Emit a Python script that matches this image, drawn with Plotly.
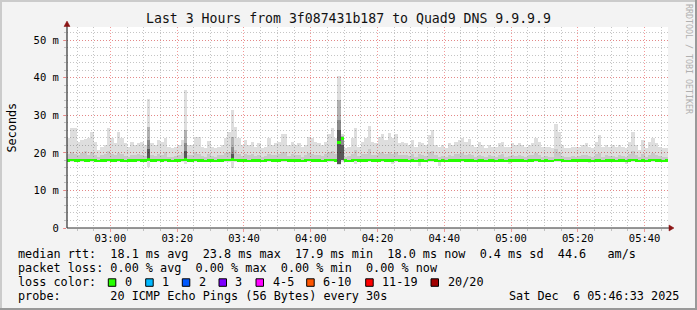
import plotly.graph_objects as go
import pandas as pd

# ---------------- data (milliseconds, 1-minute steps) ----------------
START = "2025-12-06 02:47:00"
END = "2025-12-06 05:47:00"

smoke_max = [
    23.9, 26.5, 26.5, 23.0, 23.4, 23.6, 23.9, 25.6, 22.9, 20.7, 21.6, 22.1, 26.5, 23.9, 22.5, 25.6, 23.9, 22.5, 21.6, 22.9,
    22.1, 22.5, 22.9, 22.1, 34.3, 22.5, 22.1, 23.4, 22.9, 23.9, 21.6, 21.2, 21.6, 22.1, 23.4, 36.6, 22.1, 22.1, 24.3, 24.3,
    21.6, 21.2, 23.1, 21.6, 21.2, 21.6, 22.1, 23.9, 25.6, 31.4, 27.0, 23.9, 22.1, 23.4, 22.1, 22.9, 21.6, 22.5, 21.2, 21.6,
    23.9, 22.1, 22.5, 22.9, 25.1, 25.1, 22.1, 22.9, 22.1, 22.5, 21.6, 22.1, 24.3, 23.9, 22.9, 22.5, 22.1, 22.9, 25.1, 26.5,
    23.9, 40.5, 25.0, 21.2, 21.6, 23.9, 26.5, 21.6, 22.9, 23.9, 27.1, 22.9, 22.5, 24.3, 25.1, 23.4, 25.3, 23.9, 25.1, 22.5,
    22.9, 22.5, 22.1, 23.4, 21.6, 22.9, 22.5, 22.1, 24.7, 26.0, 22.1, 21.6, 22.1, 21.2, 22.5, 22.1, 22.9, 23.4, 23.9, 22.9,
    23.7, 22.1, 21.6, 22.9, 22.1, 21.2, 22.1, 21.6, 21.6, 22.5, 22.9, 21.6, 21.6, 22.5, 22.1, 22.5, 22.1, 21.6, 22.1, 22.5,
    23.9, 22.9, 21.6, 21.6, 21.6, 21.2, 27.7, 25.6, 22.1, 21.2, 21.2, 21.6, 21.6, 21.6, 22.1, 22.5, 21.6, 21.2, 22.9, 24.7,
    21.6, 22.1, 21.6, 22.1, 21.6, 22.1, 21.6, 21.2, 22.9, 25.6, 22.1, 20.7, 23.5, 21.2, 22.9, 23.9, 22.5, 21.6, 21.2, 21.2,
]

smoke_mid = [
    19.6, 20.2, 19.8, 19.4, 19.9, 20.4, 19.5, 20.1, 19.3, 19.0, 19.4, 19.8, 20.6, 19.7, 19.3, 20.0, 19.6, 19.2, 19.0, 19.5,
    19.3, 19.8, 19.5, 19.2, 19.5, 19.4, 19.1, 19.7, 19.5, 20.1, 19.0, 18.9, 19.2, 19.4, 19.9, 19.5, 19.5, 19.3, 20.2, 19.8,
    19.1, 19.0, 19.6, 19.2, 19.0, 19.3, 19.5, 19.9, 20.3, 19.5, 20.8, 19.6, 19.2, 19.7, 19.3, 19.6, 19.1, 19.4, 19.0, 19.2,
    19.8, 19.3, 19.5, 19.6, 20.3, 20.1, 19.2, 19.6, 19.3, 19.4, 19.0, 19.3, 20.0, 19.8, 19.5, 19.4, 19.2, 19.6, 20.2, 20.6,
    19.7, 19.5, 19.5, 18.9, 19.1, 19.8, 20.7, 19.1, 19.6, 19.8, 20.9, 19.5, 19.4, 19.9, 20.2, 19.6, 20.1, 19.7, 20.2, 19.3,
    19.5, 19.4, 19.2, 19.7, 19.0, 19.6, 19.3, 19.2, 20.1, 20.5, 19.3, 19.0, 19.2, 18.9, 19.4, 19.2, 19.6, 19.7, 19.9, 19.5,
    19.8, 19.3, 19.0, 19.5, 19.2, 18.9, 19.3, 19.1, 19.0, 19.4, 19.6, 19.0, 19.1, 19.4, 19.2, 19.4, 19.2, 19.0, 19.3, 19.5,
    19.9, 19.5, 19.0, 19.1, 19.0, 18.9, 21.0, 20.3, 19.2, 18.9, 18.9, 19.1, 19.0, 19.1, 19.3, 19.4, 19.1, 18.9, 19.6, 20.0,
    19.0, 19.3, 19.1, 19.2, 19.0, 19.3, 19.1, 18.9, 19.6, 20.4, 19.3, 18.8, 19.7, 19.0, 19.5, 19.9, 19.4, 19.1, 18.9, 19.0,
]

smoke_min = [
    17.6, 17.6, 17.6, 17.6, 17.6, 17.6, 17.6, 17.6, 17.6, 17.6, 17.6, 17.6, 17.6, 17.6, 17.6, 17.6, 17.6, 17.6, 17.6, 17.6,
    17.6, 17.6, 17.6, 17.6, 16.2, 17.5, 17.6, 17.6, 17.6, 17.6, 17.6, 17.6, 17.6, 17.6, 17.6, 17.0, 17.6, 17.6, 17.6, 17.6,
    17.6, 17.6, 17.6, 17.6, 17.6, 17.6, 17.6, 17.6, 17.5, 16.0, 17.5, 17.6, 17.6, 17.6, 17.6, 17.6, 17.6, 17.6, 17.6, 17.6,
    17.6, 17.6, 17.6, 17.6, 17.6, 17.6, 17.6, 17.6, 17.6, 17.6, 17.6, 17.6, 17.6, 17.6, 17.6, 17.6, 17.6, 17.6, 17.6, 17.6,
    17.6, 16.9, 17.6, 17.6, 17.6, 17.6, 17.0, 17.6, 17.6, 17.6, 17.6, 17.6, 17.6, 17.6, 17.6, 17.6, 17.6, 17.0, 17.6, 17.6,
    17.6, 17.6, 17.6, 17.6, 17.6, 16.6, 17.6, 17.6, 17.6, 17.6, 17.6, 16.6, 17.6, 17.6, 17.6, 17.6, 17.6, 17.6, 17.6, 17.6,
    17.6, 17.6, 17.6, 17.6, 17.6, 17.6, 17.6, 17.6, 17.6, 17.6, 17.6, 17.6, 17.0, 17.6, 17.6, 17.6, 17.6, 17.6, 17.6, 17.6,
    17.6, 17.6, 17.6, 17.6, 17.6, 17.6, 17.6, 17.6, 17.6, 17.6, 17.6, 17.6, 17.6, 17.6, 17.6, 17.6, 17.3, 17.6, 17.6, 17.6,
    17.6, 17.6, 17.6, 17.6, 17.6, 17.6, 17.6, 17.1, 17.6, 17.6, 17.6, 17.6, 17.6, 17.6, 17.6, 17.6, 17.6, 17.6, 17.6, 17.6,
]

median = [
    18.0, 18.1, 18.0, 18.0, 18.1, 18.0, 18.0, 18.1, 18.0, 17.9, 18.0, 18.0, 18.1, 18.0, 18.0, 18.1, 18.0, 17.9, 18.0, 18.0,
    18.0, 18.1, 18.0, 18.0, 18.2, 18.0, 18.0, 18.1, 18.0, 18.1, 18.0, 17.9, 18.0, 18.0, 18.1, 18.2, 18.0, 18.0, 18.1, 18.0,
    18.0, 17.9, 18.0, 18.0, 17.9, 18.0, 18.0, 18.1, 18.1, 18.2, 18.1, 18.0, 18.0, 18.0, 17.9, 18.0, 18.0, 18.0, 17.9, 18.0,
    18.1, 18.0, 18.0, 18.0, 18.1, 18.1, 18.0, 18.0, 18.0, 18.0, 17.9, 18.0, 18.1, 18.0, 18.0, 18.0, 17.9, 18.0, 18.1, 18.1,
    18.0, 22.8, 23.8, 18.0, 17.9, 18.0, 18.1, 18.0, 18.0, 18.0, 18.1, 18.0, 18.0, 18.0, 18.1, 18.0, 18.0, 18.0, 18.1, 18.0,
    18.0, 18.0, 17.9, 18.0, 17.9, 18.0, 18.0, 17.9, 18.1, 18.1, 18.0, 17.9, 18.0, 17.9, 18.0, 18.0, 18.0, 18.0, 18.1, 18.0,
    18.0, 18.0, 17.9, 18.0, 18.0, 17.9, 18.0, 18.0, 17.9, 18.0, 18.0, 17.9, 18.0, 18.0, 18.0, 18.0, 18.0, 17.9, 18.0, 18.0,
    18.1, 18.0, 17.9, 18.0, 17.9, 17.9, 18.1, 18.1, 18.0, 17.9, 17.9, 18.0, 18.0, 18.0, 18.0, 18.0, 18.0, 17.9, 18.0, 18.0,
    17.9, 18.0, 18.0, 18.0, 17.9, 18.0, 18.0, 17.9, 18.0, 18.1, 18.0, 17.9, 18.0, 17.9, 18.0, 18.1, 18.0, 18.0, 17.9, 18.0,
]

# spikes: darker smoke layers (ms)
spike_idx = [24, 35, 49, 81, 82]
spike_base = [18.0, 18.0, 18.0, 17.0, 18.0]
spike_d3 = [21.0, 20.5, 19.8, 26.0, 22.0]
spike_d2 = [23.5, 22.5, 21.5, 28.7, 23.5]
spike_d1 = [27.0, 26.0, 24.3, 34.0, 24.5]

y_tick_vals = [0, 10, 20, 30, 40, 50]
y_tick_text = ["0", "10 m", "20 m", "30 m", "40 m", "50 m"]

title_text = "Last 3 Hours from 3f087431b187 to Quad9 DNS 9.9.9.9"
row_rtt = "median rtt:  18.1 ms avg  23.8 ms max  17.9 ms min  18.0 ms now  0.4 ms sd  44.6   am/s"
row_loss = "packet loss: 0.00 % avg  0.00 % max  0.00 % min  0.00 % now"
row_color_label = "loss color:"
loss_labels = ["0", "1", "2", "3", "4-5", "6-10", "11-19", "20/20"]
loss_colors = ["#26ff00", "#00b8ff", "#0059ff", "#7e00ff", "#ff00ff", "#ff5500", "#ff0000", "#a10000"]
row_probe = "probe:       20 ICMP Echo Pings (56 Bytes) every 30s"
date_text = "Sat Dec  6 05:46:33 2025"
watermark = "RRDTOOL / TOBI OETIKER"

# ---------------- build ----------------
W, H = 697, 310
L, R, T, B = 67, 29, 27, 82
PW, PH = W - L - R, H - T - B


def fx(px):
    return (px - L) / PW


def fy(py):
    return (H - B - py) / PH


def nb(s):
    return s.replace(" ", "\u00a0")


MONO = "DejaVu Sans Mono"
n = len(median)
times = pd.date_range(START, periods=n, freq="1min")
centers = times + pd.Timedelta(seconds=30)

shades = {
    "light": "rgba(0,0,0,0.13)",
    "mid": "rgba(0,0,0,0.21)",
    "d1": "rgba(0,0,0,0.30)",
    "d2": "rgba(0,0,0,0.45)",
    "d3": "rgba(0,0,0,0.66)",
}
segs = {k: ([], [], []) for k in shades}


def add(k, i, lo, hi):
    if hi > lo:
        segs[k][0].append(centers[i])
        segs[k][1].append(lo)
        segs[k][2].append(hi - lo)


spike_pos = {idx: j for j, idx in enumerate(spike_idx)}
for i in range(n):
    mn, md, mx = smoke_min[i], median[i], smoke_max[i]
    if i in spike_pos:
        j = spike_pos[i]
        add("light", i, mn, spike_base[j])
        add("d3", i, spike_base[j], spike_d3[j])
        add("d2", i, spike_d3[j], spike_d2[j])
        add("d1", i, spike_d2[j], spike_d1[j])
        add("light", i, spike_d1[j], mx)
    else:
        add("light", i, mn, md)
        add("mid", i, md, smoke_mid[i])
        add("light", i, smoke_mid[i], mx)

fig = go.Figure()
for k in ["light", "mid", "d1", "d2", "d3"]:
    xs, bases, hs = segs[k]
    fig.add_trace(go.Bar(x=xs, y=hs, base=bases, width=60000,
                         marker=dict(color=shades[k], line=dict(width=0)),
                         hoverinfo="skip"))

LINE_HALF = 0.33
fig.add_trace(go.Bar(x=centers, y=[2 * LINE_HALF] * n, base=[m - LINE_HALF for m in median],
                     width=60000, marker=dict(color=loss_colors[0], line=dict(width=0)),
                     hoverinfo="skip"))

MAJOR = "rgba(240,110,110,0.7)"
MINOR = "rgba(150,150,150,0.55)"
DASH = "1px,2px"

fig.update_layout(
    width=W, height=H,
    margin=dict(l=L, r=R, t=T, b=B, pad=0),
    paper_bgcolor="#f3f3f3", plot_bgcolor="#ffffff",
    showlegend=False, barmode="overlay", bargap=0,
    font=dict(family=MONO, size=10.5, color="#000000"),
    xaxis=dict(
        type="date", range=[START, END],
        tick0="2025-12-06 03:00:00", dtick=20 * 60 * 1000, tickformat="%H:%M",
        showgrid=True, gridcolor=MAJOR, griddash=DASH, gridwidth=1,
        ticks="outside", ticklen=3, tickcolor=MAJOR, ticklabelstandoff=-3,
        minor=dict(tick0="2025-12-06 03:00:00", dtick=5 * 60 * 1000, showgrid=True,
                   gridcolor=MINOR, griddash=DASH, ticks="outside", ticklen=2, tickcolor=MINOR),
        showline=False, zeroline=False, fixedrange=True,
        tickfont=dict(family=MONO, size=10.5, color="#000000"),
    ),
    yaxis=dict(
        range=[0, 53.5], tickvals=y_tick_vals, ticktext=y_tick_text,
        showgrid=True, gridcolor=MAJOR, griddash=DASH, gridwidth=1,
        ticks="outside", ticklen=3, tickcolor=MAJOR, ticklabelstandoff=2,
        minor=dict(dtick=2, tick0=0, showgrid=True, gridcolor=MINOR, griddash=DASH,
                   ticks="outside", ticklen=2, tickcolor=MINOR),
        showline=False, zeroline=False, fixedrange=True,
        tickfont=dict(family=MONO, size=10.5, color="#000000"),
    ),
)

shapes = []
# outer 3D border
shapes.append(dict(type="rect", xref="paper", yref="paper", x0=fx(0), x1=fx(W), y0=fy(0), y1=fy(2),
                   fillcolor="#cbcbcb", line=dict(width=0), layer="above"))
shapes.append(dict(type="rect", xref="paper", yref="paper", x0=fx(0), x1=fx(2), y0=fy(0), y1=fy(H),
                   fillcolor="#cbcbcb", line=dict(width=0), layer="above"))
shapes.append(dict(type="rect", xref="paper", yref="paper", x0=fx(0), x1=fx(W), y0=fy(H - 2), y1=fy(H),
                   fillcolor="#999999", line=dict(width=0), layer="above"))
shapes.append(dict(type="rect", xref="paper", yref="paper", x0=fx(W - 2), x1=fx(W), y0=fy(0), y1=fy(H),
                   fillcolor="#999999", line=dict(width=0), layer="above"))
# axes
AX = "#303030"
shapes.append(dict(type="line", xref="paper", yref="paper", x0=fx(L), x1=fx(670), y0=0, y1=0,
                   line=dict(color=AX, width=1.2), layer="above"))
shapes.append(dict(type="line", xref="paper", yref="paper", x0=0, x1=0, y0=0, y1=fy(24),
                   line=dict(color=AX, width=1.2), layer="above"))
ARW = "#8b1414"
shapes.append(dict(type="path", xref="paper", yref="paper",
                   path=f"M {fx(669)} {fy(225)} L {fx(674)} {fy(228)} L {fx(669)} {fy(231)} Z",
                   fillcolor=ARW, line=dict(color=ARW, width=0.5), layer="above"))
shapes.append(dict(type="path", xref="paper", yref="paper",
                   path=f"M {fx(64)} {fy(26.5)} L {fx(67)} {fy(21)} L {fx(70)} {fy(26.5)} Z",
                   fillcolor=ARW, line=dict(color=ARW, width=0.5), layer="above"))

LEG = 11.8
ROW_Y = [254.3, 268.3, 282.3, 296.0]
ann = []
ann.append(dict(text=nb(title_text), xref="paper", yref="paper", x=fx(348), y=fy(19),
                xanchor="center", yanchor="middle", showarrow=False,
                font=dict(family=MONO, size=13.2, color="#111111")))
ann.append(dict(text="Seconds", xref="paper", yref="paper", x=fx(11), y=fy(127.5), textangle=-90,
                xanchor="center", yanchor="middle", showarrow=False,
                font=dict(family=MONO, size=LEG, color="#000000")))
ann.append(dict(text=nb(watermark), xref="paper", yref="paper", x=fx(689), y=fy(59), textangle=90,
                xanchor="center", yanchor="middle", showarrow=False,
                font=dict(family=MONO, size=8.3, color="#b0b0b0")))
for txt, ry in [(row_rtt, ROW_Y[0]), (row_loss, ROW_Y[1]), (row_color_label, ROW_Y[2]), (row_probe, ROW_Y[3])]:
    ann.append(dict(text=nb(txt), xref="paper", yref="paper", x=fx(16), y=fy(ry),
                    xanchor="left", yanchor="middle", showarrow=False,
                    font=dict(family=MONO, size=LEG, color="#000000")))
ann.append(dict(text=nb(date_text), xref="paper", yref="paper", x=fx(681), y=fy(ROW_Y[3]),
                xanchor="right", yanchor="middle", showarrow=False,
                font=dict(family=MONO, size=LEG, color="#000000")))

BOX_X = [108.3, 145.7, 182.3, 219.0, 256.0, 306.7, 365.7, 431.0]
for bx, lab, col in zip(BOX_X, loss_labels, loss_colors):
    shapes.append(dict(type="rect", xref="paper", yref="paper",
                       x0=fx(bx), x1=fx(bx + 7.5), y0=fy(286.3), y1=fy(278.8),
                       fillcolor=col, line=dict(color="#000000", width=1), layer="above"))
    ann.append(dict(text=nb(lab), xref="paper", yref="paper", x=fx(bx + 14.5), y=fy(ROW_Y[2]),
                    xanchor="left", yanchor="middle", showarrow=False,
                    font=dict(family=MONO, size=LEG, color="#000000")))

fig.update_layout(shapes=shapes, annotations=ann)
fig.write_html("out.html")
